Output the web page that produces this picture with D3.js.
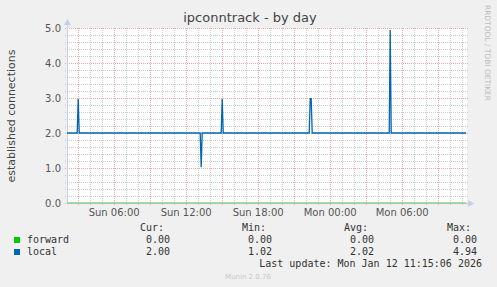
<!DOCTYPE html>
<html><head><meta charset="utf-8">
<script src="https://cdn.jsdelivr.net/npm/d3@7"></script>
<style>
html,body{margin:0;padding:0;background:#f0f0f0;}
svg{display:block;}
text{font-family:"DejaVu Sans",sans-serif;}
.mono{font-family:"DejaVu Sans Mono",monospace;font-size:10px;fill:#333;}
</style></head>
<body>
<script>
// ---- data ----
const title = "ipconntrack - by day";
const yLabel = "established connections";
const timeDomain = ["2026-01-11 02:04", "2026-01-12 11:24"];
const yTicks = [0, 1, 2, 3, 4, 5];
const xTickLabels = ["2026-01-11 06:00", "2026-01-11 12:00", "2026-01-11 18:00", "2026-01-12 00:00", "2026-01-12 06:00"];
const seriesNames = ["forward", "local"];
const seriesColors = ["#00cc00", "#0066b3"];
const forwardTimes = ["2026-01-11 02:04", "2026-01-12 11:20"];
const forwardValues = [0, 0];
const localTimes = [
  "2026-01-11 02:04", "2026-01-11 02:55", "2026-01-11 03:00", "2026-01-11 03:05",
  "2026-01-11 13:10", "2026-01-11 13:15", "2026-01-11 13:20",
  "2026-01-11 14:55", "2026-01-11 15:00", "2026-01-11 15:05",
  "2026-01-11 22:15", "2026-01-11 22:20", "2026-01-11 22:25", "2026-01-11 22:30",
  "2026-01-12 04:55", "2026-01-12 05:00", "2026-01-12 05:05",
  "2026-01-12 11:20"
];
const localValues = [
  2.0, 2.0, 2.97, 2.0,
  2.0, 1.02, 2.0,
  2.0, 2.97, 2.0,
  2.0, 2.98, 2.98, 2.0,
  2.0, 4.94, 2.0,
  2.0
];
const legendHeaders = ["Cur:", "Min:", "Avg:", "Max:"];
const legendCur = ["0.00", "2.00"];
const legendMin = ["0.00", "1.02"];
const legendAvg = ["0.00", "2.02"];
const legendMax = ["0.00", "4.94"];
const lastUpdate = "Last update: Mon Jan 12 11:15:06 2026";
const version = "Munin 2.0.76";
const watermark = "RRDTOOL / TOBI OETIKER";

// ---- drawing ----
const W = 497, H = 287;
const parse = d3.timeParse("%Y-%m-%d %H:%M");
const svg = d3.select("body").append("svg").attr("width", W).attr("height", H);
svg.append("rect").attr("width", W).attr("height", H).attr("fill", "#f0f0f0");

const L = 67, R = 467, T = 28, B = 203;
const x = d3.scaleTime().domain(timeDomain.map(parse)).range([L, R]);
const y = d3.scaleLinear().domain([0, 5]).range([B, T]);

svg.append("rect").attr("x", L).attr("y", T).attr("width", R - L).attr("height", B - T).attr("fill", "#ffffff");

const g = svg.append("g").attr("shape-rendering", "crispEdges");
const minorC = "#cccccc", majorC = "#ecaaaa";
// minor grid
const minorY = d3.range(0, 5.001, 0.2).filter(v => Math.abs(v - Math.round(v)) > 1e-6);
g.selectAll(".mhy").data(minorY).enter().append("line")
  .attr("x1", L - 2).attr("x2", R + 2)
  .attr("y1", d => Math.round(y(d)) + 0.5).attr("y2", d => Math.round(y(d)) + 0.5)
  .attr("stroke", minorC).attr("stroke-dasharray", "1,1");
const hours = d3.timeHour.every(1).range(x.domain()[0], x.domain()[1]);
g.selectAll(".mvx").data(hours.filter(d => d.getHours() % 3 !== 0)).enter().append("line")
  .attr("x1", d => Math.round(x(d)) + 0.5).attr("x2", d => Math.round(x(d)) + 0.5)
  .attr("y1", T).attr("y2", B + 2)
  .attr("stroke", minorC).attr("stroke-dasharray", "1,1");
// major grid
g.selectAll(".Mhy").data(yTicks).enter().append("line")
  .attr("x1", L - 2).attr("x2", R + 2)
  .attr("y1", d => Math.round(y(d)) + 0.5).attr("y2", d => Math.round(y(d)) + 0.5)
  .attr("stroke", majorC).attr("stroke-dasharray", "1,1");
g.selectAll(".Mvx").data(hours.filter(d => d.getHours() % 3 === 0)).enter().append("line")
  .attr("x1", d => Math.round(x(d)) + 0.5).attr("x2", d => Math.round(x(d)) + 0.5)
  .attr("y1", T).attr("y2", B + 2)
  .attr("stroke", majorC).attr("stroke-dasharray", "1,1");

// axes lines + arrows
svg.append("line").attr("x1", L + 0.5).attr("x2", L + 0.5).attr("y1", T - 4).attr("y2", B)
  .attr("stroke", "#c8ccf0");
svg.append("path").attr("d", `M${L - 3},${T - 3} L${L + 4},${T - 3} L${L + 0.5},${T - 9} Z`).attr("fill", "#c8ccf0");
svg.append("line").attr("x1", L).attr("x2", R + 3).attr("y1", B + 0.5).attr("y2", B + 0.5)
  .attr("stroke", "#c8ccf0");
svg.append("path").attr("d", `M${R + 1},${B - 3} L${R + 1},${B + 4} L${R + 7},${B + 0.5} Z`).attr("fill", "#c8ccf0");

// y tick labels
svg.selectAll(".yt").data(yTicks).enter().append("text")
  .attr("x", 61).attr("y", d => y(d) + 3.5).attr("text-anchor", "end")
  .attr("font-size", 10).attr("fill", "#555").text(d => d.toFixed(1));
// x tick labels
const fmt = d3.timeFormat("%a %H:%M");
svg.selectAll(".xt").data(xTickLabels.map(parse)).enter().append("text")
  .attr("x", d => x(d)).attr("y", 215.5).attr("text-anchor", "middle")
  .attr("font-size", 10).attr("fill", "#555").text(d => fmt(d));

// series
const line = d3.line().x(d => x(d[0])).y(d => y(d[1]));
const fwd = forwardTimes.map((t, i) => [parse(t), forwardValues[i]]);
const loc = localTimes.map((t, i) => [parse(t), localValues[i]]);
svg.append("path").attr("d", line(fwd)).attr("fill", "none")
  .attr("stroke", "#8ccf8c").attr("stroke-width", 1.5);
svg.append("path").attr("d", line(loc)).attr("fill", "none")
  .attr("stroke", seriesColors[1]).attr("stroke-width", 1.3);

// title and labels
svg.append("text").attr("x", 250).attr("y", 22).attr("text-anchor", "middle")
  .attr("font-size", 13).attr("fill", "#444").text(title);
svg.append("text").attr("transform", "translate(15,116) rotate(-90)").attr("text-anchor", "middle")
  .attr("font-size", 11).attr("fill", "#444").text(yLabel);
svg.append("text").attr("transform", "translate(485,5) rotate(90)")
  .attr("font-size", 7.5).attr("fill", "#bdbdbd")
  .attr("textLength", 96).attr("lengthAdjust", "spacingAndGlyphs").text(watermark);

// legend
const colRight = [170, 272, 374, 477];
const hdrRight = [164, 266, 368, 471];
svg.selectAll(".lh").data(legendHeaders).enter().append("text").attr("class", "mono")
  .attr("x", (d, i) => hdrRight[i]).attr("y", 231).attr("text-anchor", "end").text(d => d);
const cols = [legendCur, legendMin, legendAvg, legendMax];
seriesNames.forEach((name, si) => {
  const yy = 243 + si * 12;
  svg.append("rect").attr("x", 14).attr("y", yy - 6).attr("width", 6).attr("height", 6)
    .attr("fill", seriesColors[si]);
  svg.append("text").attr("class", "mono").attr("x", 27).attr("y", yy).text(name);
  cols.forEach((c, ci) => {
    svg.append("text").attr("class", "mono").attr("x", colRight[ci]).attr("y", yy)
      .attr("text-anchor", "end").text(c[si]);
  });
});
svg.append("text").attr("class", "mono").attr("x", 482).attr("y", 267).attr("text-anchor", "end").text(lastUpdate);
svg.append("text").attr("x", 248).attr("y", 279).attr("text-anchor", "middle")
  .attr("font-size", 7).attr("fill", "#c8c8c8").text(version);
</script>
</body></html>
